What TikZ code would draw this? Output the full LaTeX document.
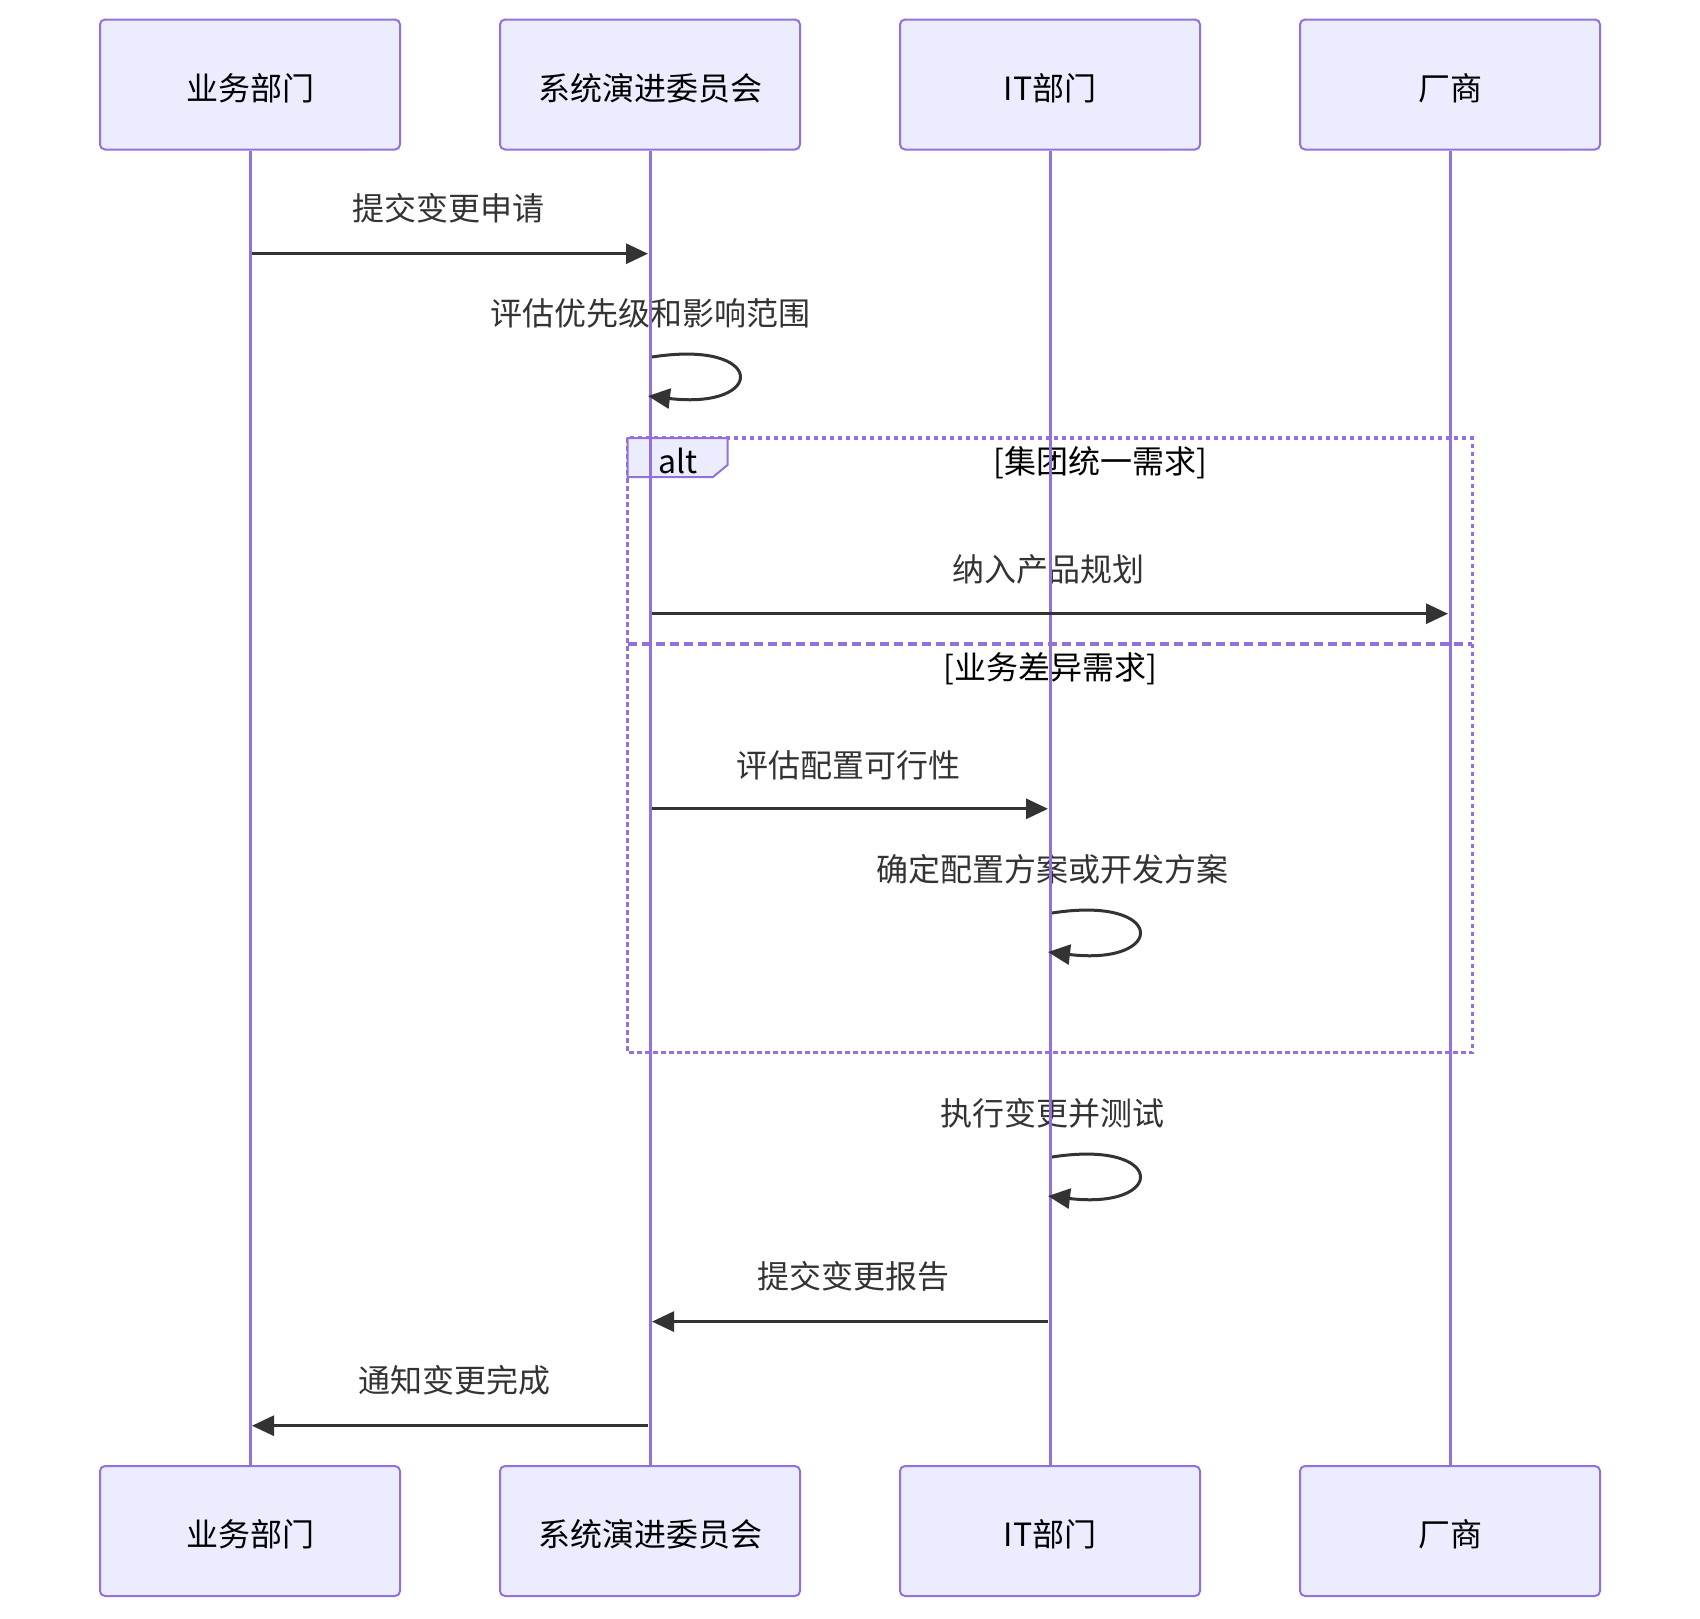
\documentclass[tikz,border=0pt]{standalone}
\usepackage{fontspec}
\setmainfont{Noto Sans CJK SC}
\usetikzlibrary{arrows.meta}
\definecolor{actfill}{HTML}{ECECFF}
\definecolor{actline}{HTML}{9370DB}
\definecolor{msgc}{HTML}{333333}
\begin{document}
\begin{tikzpicture}[x=1pt,y=-1pt,
 actor/.style={draw=actline, fill=actfill, line width=2pt, rounded corners=5pt, minimum width=300pt, minimum height=130pt, font=\fontsize{32}{38}\selectfont, inner sep=0pt, text height=33pt, text depth=2pt},
 life/.style={draw=actline, line width=3pt},
 msg/.style={draw=msgc, line width=3pt, -{Triangle[length=22pt,width=20pt]}},
 mlabel/.style={font=\fontsize{32}{38}\selectfont, text=msgc, inner sep=0pt},
 seclabel/.style={font=\fontsize{32}{38}\selectfont, text=black, inner sep=0pt},
 altline/.style={draw=actline, line width=3.2pt, dash pattern=on 4.5pt off 3.5pt},
 divline/.style={draw=actline, line width=3.2pt, dash pattern=on 9pt off 5pt},
 altbox/.style={draw=actline, fill=actfill, line width=2pt}]
\useasboundingbox (0,0) rectangle (1700,1618);

% actors
\node[actor] (a1) at (250,84.5) {业务部门};
\node[actor] (a2) at (650,84.5) {系统演进委员会};
\node[actor] (a3) at (1050,84.5) {IT部门};
\node[actor] (a4) at (1450,84.5) {厂商};
\node[actor] (b1) at (250,1531) {业务部门};
\node[actor] (b2) at (650,1531) {系统演进委员会};
\node[actor] (b3) at (1050,1531) {IT部门};
\node[actor] (b4) at (1450,1531) {厂商};

% alt frame
\coordinate (altnw) at (627.7,438);
\coordinate (altse) at (1472.3,1052.7);
\draw[altline] (altnw) rectangle (altse);
\coordinate (dvl) at (627.7,644);
\coordinate (dvr) at (1472.3,644);
\draw[divline] (dvl) -- (dvr);
\coordinate (ab1) at (727.5,438);
\coordinate (ab2) at (727.5,465);
\coordinate (ab3) at (713,477);
\coordinate (ab4) at (627.7,477);
\draw[altbox] (altnw) -- (ab1) -- (ab2) -- (ab3) -- (ab4) -- cycle;
\node[seclabel] (altt) at (677.6,461) {alt};
\node[seclabel] (g1) at (1100.5,463) {[集团统一需求]};
\node[seclabel] (g2) at (1050,669) {[业务差异需求]};

% message labels
\node[mlabel] (t1) at (448,208) {提交变更申请};
\node[mlabel] (t2) at (650,313) {评估优先级和影响范围};
\node[mlabel] (t3) at (1048,569) {纳入产品规划};
\node[mlabel] (t4) at (848,765) {评估配置可行性};
\node[mlabel] (t5) at (1052,869.5) {确定配置方案或开发方案};
\node[mlabel] (t6) at (1052,1113.5) {执行变更并测试};
\node[mlabel] (t7) at (853,1276) {提交变更报告};
\node[mlabel] (t8) at (454,1380) {通知变更完成};

% lifelines
\draw[life] (a1.south) -- (b1.north);
\draw[life] (a2.south) -- (b2.north);
\draw[life] (a3.south) -- (b3.north);
\draw[life] (a4.south) -- (b4.north);

% messages
\coordinate (m1s) at (252,253.7);
\coordinate (m1e) at (648,253.7);
\draw[msg] (m1s) -- (m1e);

\coordinate (l1s) at (652,357);
\coordinate (l1c1) at (767,339);
\coordinate (l1c2) at (767,410);
\coordinate (l1e) at (648,396);
\draw[msg] (l1s) .. controls (l1c1) and (l1c2) .. (l1e);

\coordinate (m3s) at (652,613.7);
\coordinate (m3e) at (1448,613.7);
\draw[msg] (m3s) -- (m3e);

\coordinate (m4s) at (652,808.8);
\coordinate (m4e) at (1048,808.8);
\draw[msg] (m4s) -- (m4e);

\coordinate (l2s) at (1052,913);
\coordinate (l2c1) at (1167,895);
\coordinate (l2c2) at (1167,966);
\coordinate (l2e) at (1048,952);
\draw[msg] (l2s) .. controls (l2c1) and (l2c2) .. (l2e);

\coordinate (l3s) at (1052,1157);
\coordinate (l3c1) at (1167,1139);
\coordinate (l3c2) at (1167,1210);
\coordinate (l3e) at (1048,1196);
\draw[msg] (l3s) .. controls (l3c1) and (l3c2) .. (l3e);

\coordinate (m7s) at (1048,1321.6);
\coordinate (m7e) at (652,1321.6);
\draw[msg] (m7s) -- (m7e);

\coordinate (m8s) at (648,1425.7);
\coordinate (m8e) at (252,1425.7);
\draw[msg] (m8s) -- (m8e);
\end{tikzpicture}
\end{document}
